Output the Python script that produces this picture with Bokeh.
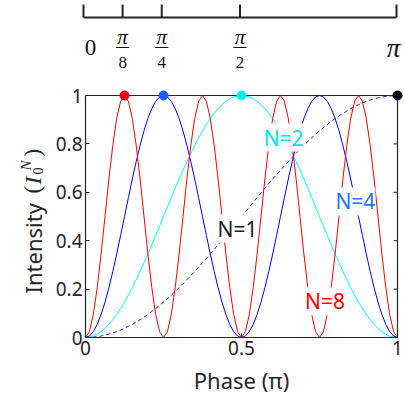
from bokeh.plotting import figure
from bokeh.models import Range1d, LinearAxis, FixedTicker, Label, NumeralTickFormatter
from bokeh.embed import file_html
from bokeh.resources import INLINE
from bokeh.core.properties import value

# ---------------- data ----------------
phase_fine = [i / 80 for i in range(81)]     # grid, units of pi
phase_coarse = [i / 40 for i in range(41)]

n1_intensity = [0.000, 0.002, 0.006, 0.014, 0.024, 0.038, 0.054, 0.074, 0.095, 0.120,
                0.146, 0.175, 0.206, 0.239, 0.273, 0.309, 0.345, 0.383, 0.422, 0.461,
                0.500, 0.539, 0.578, 0.617, 0.655, 0.691, 0.727, 0.761, 0.794, 0.825,
                0.854, 0.880, 0.905, 0.926, 0.946, 0.962, 0.976, 0.986, 0.994, 0.998,
                1.000]

n2_intensity = [0.000, 0.002, 0.006, 0.014, 0.024, 0.038, 0.054, 0.074, 0.095, 0.120,
                0.146, 0.175, 0.206, 0.239, 0.273, 0.309, 0.345, 0.383, 0.422, 0.461,
                0.500, 0.539, 0.578, 0.617, 0.655, 0.691, 0.727, 0.761, 0.794, 0.825,
                0.854, 0.880, 0.905, 0.926, 0.946, 0.962, 0.976, 0.986, 0.994, 0.998,
                1.000, 0.998, 0.994, 0.986, 0.976, 0.962, 0.946, 0.926, 0.905, 0.880,
                0.854, 0.825, 0.794, 0.761, 0.727, 0.691, 0.655, 0.617, 0.578, 0.539,
                0.500, 0.461, 0.422, 0.383, 0.345, 0.309, 0.273, 0.239, 0.206, 0.175,
                0.146, 0.120, 0.095, 0.074, 0.054, 0.038, 0.024, 0.014, 0.006, 0.002,
                0.000]

n4_intensity = [0.000, 0.006, 0.024, 0.054, 0.095, 0.146, 0.206, 0.273, 0.345, 0.422,
                0.500, 0.578, 0.655, 0.727, 0.794, 0.854, 0.905, 0.946, 0.976, 0.994,
                1.000, 0.994, 0.976, 0.946, 0.905, 0.854, 0.794, 0.727, 0.655, 0.578,
                0.500, 0.422, 0.345, 0.273, 0.206, 0.146, 0.095, 0.054, 0.024, 0.006,
                0.000, 0.006, 0.024, 0.054, 0.095, 0.146, 0.206, 0.273, 0.345, 0.422,
                0.500, 0.578, 0.655, 0.727, 0.794, 0.854, 0.905, 0.946, 0.976, 0.994,
                1.000, 0.994, 0.976, 0.946, 0.905, 0.854, 0.794, 0.727, 0.655, 0.578,
                0.500, 0.422, 0.345, 0.273, 0.206, 0.146, 0.095, 0.054, 0.024, 0.006,
                0.000]

n8_intensity = [0.000, 0.024, 0.095, 0.206, 0.345, 0.500, 0.655, 0.794, 0.905, 0.976,
                1.000, 0.976, 0.905, 0.794, 0.655, 0.500, 0.345, 0.206, 0.095, 0.024,
                0.000, 0.024, 0.095, 0.206, 0.345, 0.500, 0.655, 0.794, 0.905, 0.976,
                1.000, 0.976, 0.905, 0.794, 0.655, 0.500, 0.345, 0.206, 0.095, 0.024,
                0.000, 0.024, 0.095, 0.206, 0.345, 0.500, 0.655, 0.794, 0.905, 0.976,
                1.000, 0.976, 0.905, 0.794, 0.655, 0.500, 0.345, 0.206, 0.095, 0.024,
                0.000, 0.024, 0.095, 0.206, 0.345, 0.500, 0.655, 0.794, 0.905, 0.976,
                1.000, 0.976, 0.905, 0.794, 0.655, 0.500, 0.345, 0.206, 0.095, 0.024,
                0.000]

peak_x = [0.125, 0.25, 0.5, 1.0]
peak_y = [1.0, 1.0, 1.0, 1.0]
peak_colors = ["#e8000b", "#1a5cff", "#00f0f0", "#000000"]

curve_labels = ["N=2", "N=4", "N=1", "N=8"]
curve_label_x = [0.635, 0.865, 0.487, 0.768]
curve_label_y = [0.826, 0.562, 0.450, 0.149]
curve_label_colors = ["#00e5ee", "#1f77ff", "#1a1a1a", "#ff0000"]

x_ticks = [0, 0.5, 1]
y_ticks = [0, 0.2, 0.4, 0.6, 0.8, 1]

top_whole_ticks = [0, 1]
top_whole_labels = ["0", "\u03c0"]
top_frac_ticks = [1 / 8, 1 / 4, 1 / 2]
top_frac_num = ["\u03c0", "\u03c0", "\u03c0"]
top_frac_den = ["8", "4", "2"]
top_ticks = [0, 1 / 8, 1 / 4, 1 / 2, 1]

AX = "#262626"
SANS = "Noto Sans"
SERIF = "Liberation Serif"

# ---------------- geometry (pixels of the picture) ----------------
W, H = 403, 400
BOX_L, BOX_R, BOX_T, BOX_B = 85, 397, 95, 337      # plot box
SC_L, SC_R = 83, 396                              # top phase scale
BW, BH = BOX_R - BOX_L, BOX_B - BOX_T


def dx(px):
    return (px - BOX_L) / BW


def dy(py):
    return (BOX_B - py) / BH


p = figure(width=W, height=H,
           x_range=Range1d(dx(0), dx(W)), y_range=Range1d(dy(H), dy(0)),
           x_axis_type=None, y_axis_type=None,
           output_backend="svg", toolbar_location=None,
           min_border=0, outline_line_color=None)
p.extra_x_ranges = {"scale": Range1d(-SC_L / (SC_R - SC_L), (W - SC_L) / (SC_R - SC_L))}


def make_axis(ticks):
    return LinearAxis(ticker=FixedTicker(ticks=ticks), fixed_location=0, bounds=(0, 1),
                      axis_line_color=AX, axis_line_width=1.2,
                      major_tick_line_color=AX, major_tick_in=4, major_tick_out=0,
                      minor_tick_line_color=None,
                      formatter=NumeralTickFormatter(format="0.[0]"),
                      major_label_text_font=SANS, major_label_text_font_size="19px",
                      major_label_text_color=AX)


xb = make_axis(x_ticks)
xb.major_label_standoff = 3
xb.axis_label = "Phase (\u03c0)"
xb.axis_label_text_font = SANS
xb.axis_label_text_font_size = "22px"
xb.axis_label_text_font_style = "normal"
xb.axis_label_text_color = AX
xb.axis_label_standoff = 7
p.add_layout(xb, "below")

yl = make_axis(y_ticks)
yl.major_label_standoff = 3
p.add_layout(yl, "left")

# box top and right edges with inward ticks (MATLAB-style box)
TK_X, TK_Y = 4 / BW, 4 / BH
p.segment(x0=[0, 1], y0=[1, 0], x1=[1, 1], y1=[1, 1], line_color=AX, line_width=1.2)
p.segment(x0=x_ticks, y0=[1] * len(x_ticks), x1=x_ticks, y1=[1 - TK_Y] * len(x_ticks),
          line_color=AX, line_width=1)
p.segment(x0=[1] * len(y_ticks), y0=y_ticks, x1=[1 - TK_X] * len(y_ticks), y1=y_ticks,
          line_color=AX, line_width=1)

# curves
p.line(phase_coarse, n1_intensity, line_color="#2020ff", line_width=1, line_dash="4 3")
p.line(phase_fine, n2_intensity, line_color="#00ffff", line_width=1)
p.line(phase_fine, n4_intensity, line_color="#0000ff", line_width=1)
p.line(phase_fine, n8_intensity, line_color="#ff0000", line_width=1)
p.scatter(peak_x, peak_y, size=9, color=peak_colors)

for t, x, y, c in zip(curve_labels, curve_label_x, curve_label_y, curve_label_colors):
    p.add_layout(Label(x=x, y=y, text=t, text_color=c, text_font=SANS,
                       text_font_size="21px", text_align="center", text_baseline="middle",
                       background_fill_color="white"))

# top phase scale (0 .. pi)
SC_Y, SC_TICK_TOP = dy(17), dy(4)
p.segment(x0=[0], y0=[SC_Y], x1=[1], y1=[SC_Y], line_color=AX, line_width=2,
          x_range_name="scale")
p.segment(x0=top_ticks, y0=[SC_TICK_TOP] * len(top_ticks), x1=top_ticks,
          y1=[SC_Y] * len(top_ticks), line_color=AX, line_width=2, x_range_name="scale")
p.text(x=[top_whole_ticks[0]], y=[dy(47)], text=[top_whole_labels[0]], x_offset=7,
       text_font=value(SERIF), text_font_size="23px", text_align="center",
       text_baseline="middle", text_color="#111111", x_range_name="scale")
p.text(x=[top_whole_ticks[1]], y=[dy(47)], text=[top_whole_labels[1]], x_offset=-3,
       text_font=value(SERIF), text_font_size="27px", text_font_style="italic",
       text_align="center", text_baseline="middle", text_color="#111111",
       x_range_name="scale")
p.text(x=top_frac_ticks, y=[dy(36)] * 3, text=top_frac_num,
       text_font=value(SERIF), text_font_size="21px", text_font_style="italic",
       text_align="center", text_baseline="middle", text_color="#111111",
       x_range_name="scale")
p.segment(x0=[t - 0.021 for t in top_frac_ticks], y0=[dy(47)] * 3,
          x1=[t + 0.021 for t in top_frac_ticks], y1=[dy(47)] * 3,
          line_color="#111111", line_width=1.2, x_range_name="scale")
p.text(x=top_frac_ticks, y=[dy(62)] * 3, text=top_frac_den,
       text_font=value(SERIF), text_font_size="17px",
       text_align="center", text_baseline="middle", text_color="#111111",
       x_range_name="scale")

# y-axis label assembled from pieces (rotated): text, start y, baseline x, font, size, style
ylabel_parts = [
    ("Intensity", 293, 32, SANS, "22px", "normal"),
    ("(", 193, 32, SERIF, "23px", "normal"),
    ("I", 184, 32, SERIF, "24px", "italic"),
    ("0", 174, 37, SERIF, "14px", "normal"),
    ("N", 170, 25, SERIF, "15px", "italic"),
    (")", 156, 32, SERIF, "23px", "normal"),
]
for t, py, px, font, size, style in ylabel_parts:
    p.add_layout(Label(x=dx(px), y=dy(py), text=t, angle=90, angle_units="deg",
                       text_font=font, text_font_size=size, text_font_style=style,
                       text_color=AX, text_align="left", text_baseline="alphabetic"))

open("out.html", "w").write(file_html(p, INLINE))
